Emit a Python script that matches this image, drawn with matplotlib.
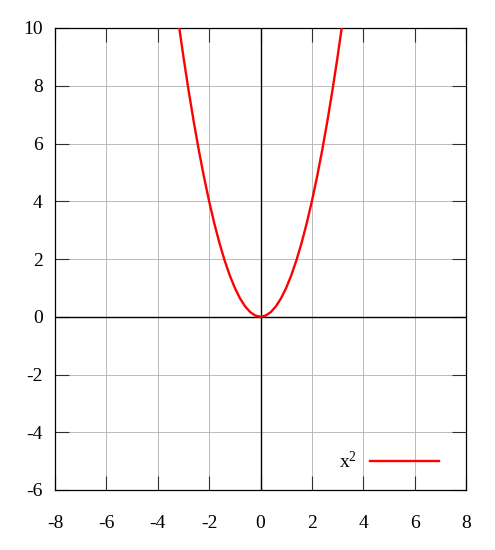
import matplotlib
matplotlib.use("Agg")
import matplotlib.pyplot as plt

# sample points
x = [-3.2, -3.0, -2.8, -2.6, -2.4, -2.2, -2.0, -1.8, -1.6, -1.4, -1.2,
     -1.0, -0.8, -0.6, -0.4, -0.2, 0.0, 0.2, 0.4, 0.6, 0.8, 1.0, 1.2,
     1.4, 1.6, 1.8, 2.0, 2.2, 2.4, 2.6, 2.8, 3.0, 3.2]
y = [10.24, 9.0, 7.84, 6.76, 5.76, 4.84, 4.0, 3.24, 2.56, 1.96, 1.44,
     1.0, 0.64, 0.36, 0.16, 0.04, 0.0, 0.04, 0.16, 0.36, 0.64, 1.0, 1.44,
     1.96, 2.56, 3.24, 4.0, 4.84, 5.76, 6.76, 7.84, 9.0, 10.24]
xticks = [-8, -6, -4, -2, 0, 2, 4, 6, 8]
yticks = [-6, -4, -2, 0, 2, 4, 6, 8, 10]

plt.rcParams['font.family'] = ['Liberation Serif', 'DejaVu Serif']
plt.rcParams['axes.unicode_minus'] = False
plt.rcParams['mathtext.fontset'] = 'custom'
plt.rcParams['mathtext.rm'] = 'Liberation Serif'
plt.rcParams['mathtext.it'] = 'Liberation Serif'

fig = plt.figure(figsize=(4.95, 5.5), dpi=100)
ax = fig.add_axes([55/495, 1 - 490/550, (466-55)/495, (490-28)/550])

ax.set_xlim(-8, 8)
ax.set_ylim(-6, 10)
ax.set_xticks(xticks)
ax.set_yticks(yticks)
ax.set_axisbelow(True)
ax.grid(True, color='#b0b0b0', linewidth=0.6)
ax.axhline(0, color='black', linewidth=1.0, zorder=2.5)
ax.axvline(0, color='black', linewidth=1.0, zorder=2.5)

ax.plot(x, y, color='red', linewidth=1.7, zorder=3)

ax.tick_params(direction='in', length=10, width=0.8, color='#303030',
               top=True, right=True, labelsize=14)
ax.tick_params(axis='y', pad=9)
ax.tick_params(axis='x', pad=18)
for s in ax.spines.values():
    s.set_color('black')
    s.set_linewidth(0.9)

# key, bottom right
ax.plot([4.25, 6.95], [-5.0, -5.0], color='red', linewidth=1.7, zorder=3)
ax.text(3.75, -5.0, r"x$\mathrm{^2}$", ha='right', va='center', fontsize=14)

fig.savefig("out.png", dpi=100)
